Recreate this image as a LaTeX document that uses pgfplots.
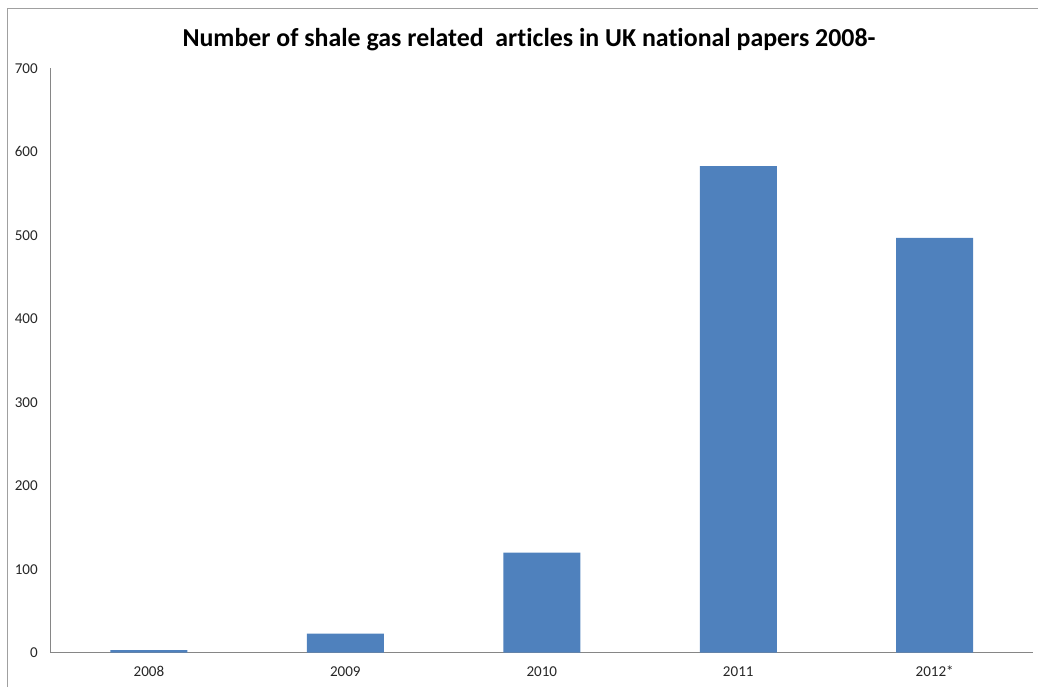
\documentclass[border=0pt]{standalone}
\usepackage{pgfplots}
\pgfplotsset{compat=1.18}
\usepackage{fontspec}
\setmainfont{Carlito}[Ligatures={NoCommon}]
\definecolor{barblue}{HTML}{4F81BD}
\definecolor{axisgray}{HTML}{868686}
\definecolor{framegray}{HTML}{A0A0A0}
\begin{document}
\begin{tikzpicture}
\path[use as bounding box] (0,0) rectangle (778.5pt,515.25pt);
\draw[framegray, line width=0.8pt] (5.5pt,0) -- (5.5pt,509pt) -- (778.5pt,509pt);
\node[font=\fontsize{19.4}{22}\bfseries\selectfont] at (396.75pt,485.25pt) {Number of shale gas related\ \ articles in UK national papers 2008-};
\begin{axis}[
  at={(38pt,25.7pt)}, anchor=south west,
  scale only axis,
  width=736.7pt, height=438.2pt,
  xmin=-0.5, xmax=4.5,
  ymin=0, ymax=700,
  ytick={0,100,...,700},
  xtick=data,
  xticklabels={2008,2009,2010,2011,2012*},
  axis x line=bottom, axis y line=left,
  axis line style={-, axisgray, line width=0.8pt},
  major tick length=0pt,
  /pgf/number format/assume math mode=true,
  ticklabel style={font=\fontsize{11.3}{13}\selectfont, inner sep=0pt, text=black!85},
  yticklabel style={anchor=east, xshift=-9.5pt},
  xticklabel style={anchor=base, yshift=-17.5pt},
  ybar, bar width=57.75pt,
  clip=false,
]
\addplot[fill=barblue, draw=none] coordinates {(0,3) (1,23) (2,120) (3,583) (4,497)};
\end{axis}
\end{tikzpicture}
\end{document}
